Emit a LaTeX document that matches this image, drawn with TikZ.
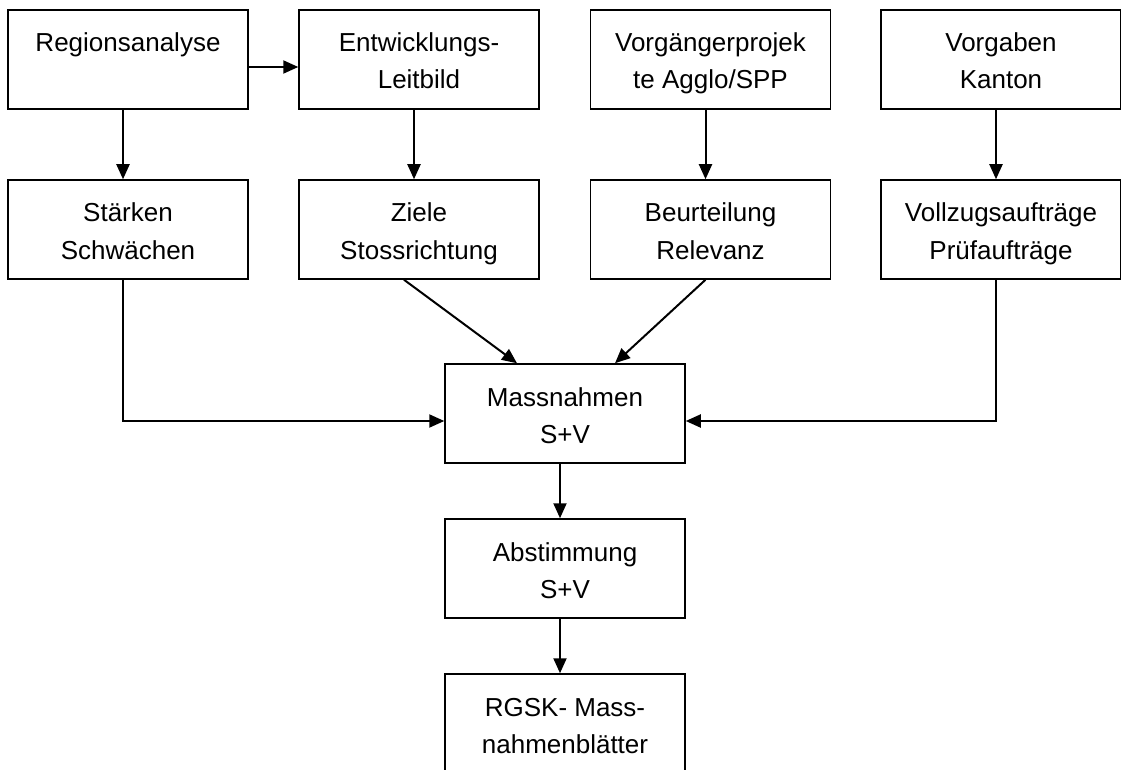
\documentclass[tikz,border=0pt]{standalone}
\usepackage{fontspec}
\setmainfont{Liberation Sans}
\usetikzlibrary{arrows.meta}
\begin{document}
\begin{tikzpicture}[x=1pt,y=-1pt,
  box/.style={draw, line width=1.5pt, rectangle, minimum width=240pt, minimum height=99pt, inner sep=0pt},
  txt/.style={anchor=base, inner sep=0pt, font=\fontsize{26}{37}\selectfont},
  arr/.style={line width=2pt, -{Triangle[length=15pt,width=13pt]}}]
\useasboundingbox (0,0) rectangle (1121,770);
% boxes
\node[box] (A) at (128,59.5) {};
\node[box] (B) at (419,59.5) {};
\node[box] (C) at (710.5,59.5) {};
\node[box] (D) at (1001,59.5) {};
\node[box] (E) at (128,229.5) {};
\node[box] (F) at (419,229.5) {};
\node[box] (G) at (710.5,229.5) {};
\node[box] (H) at (1001,229.5) {};
\node[box] (M) at (565,413.5) {};
\node[box] (Ab) at (565,568.5) {};
\node[box] (R) at (565,723.5) {};
% texts
\node[txt] (A1) at (128,52) {Regionsanalyse};
\node[txt] (B1) at (419,52) {Entwicklungs-};
\node[txt] (B2) at (419,89) {Leitbild};
\node[txt] (C1) at (710.5,52) {Vorgängerprojek};
\node[txt] (C2) at (710.5,89) {te Agglo/SPP};
\node[txt] (D1) at (1001,52) {Vorgaben};
\node[txt] (D2) at (1001,89) {Kanton};
\node[txt] (E1) at (128,222) {Stärken};
\node[txt] (E2) at (128,259) {Schwächen};
\node[txt] (F1) at (419,222) {Ziele};
\node[txt] (F2) at (419,259) {Stossrichtung};
\node[txt] (G1) at (710.5,222) {Beurteilung};
\node[txt] (G2) at (710.5,259) {Relevanz};
\node[txt] (H1) at (1001,222) {Vollzugsaufträge};
\node[txt] (H2) at (1001,259) {Prüfaufträge};
\node[txt] (M1) at (565,406) {Massnahmen};
\node[txt] (M2) at (565,443) {S+V};
\node[txt] (Ab1) at (565,561) {Abstimmung};
\node[txt] (Ab2) at (565,598) {S+V};
\node[txt] (R1) at (565,716) {RGSK- Mass-};
\node[txt] (R2) at (565,753) {nahmenblätter};
% connectors
\draw[arr] ([yshift=-7.5pt]A.east) -- ([yshift=-7.5pt]B.west);
\draw[arr] ([xshift=-5pt]A.south) -- ([xshift=-5pt]E.north);
\draw[arr] ([xshift=-5pt]B.south) -- ([xshift=-5pt]F.north);
\draw[arr] ([xshift=-5pt]C.south) -- ([xshift=-5pt]G.north);
\draw[arr] ([xshift=-5pt]D.south) -- ([xshift=-5pt]H.north);
\draw[arr] ([xshift=-5pt]E.south) |- ([yshift=-7.5pt]M.west);
\draw[arr] ([xshift=-5pt]H.south) |- ([yshift=-7.5pt]M.east);
\draw[arr] ([xshift=-15pt]F.south) -- ([xshift=-48pt]M.north);
\draw[arr] ([xshift=-5pt]G.south) -- ([xshift=50pt]M.north);
\draw[arr] ([xshift=-5pt]M.south) -- ([xshift=-5pt]Ab.north);
\draw[arr] ([xshift=-5pt]Ab.south) -- ([xshift=-5pt]R.north);
\end{tikzpicture}
\end{document}
